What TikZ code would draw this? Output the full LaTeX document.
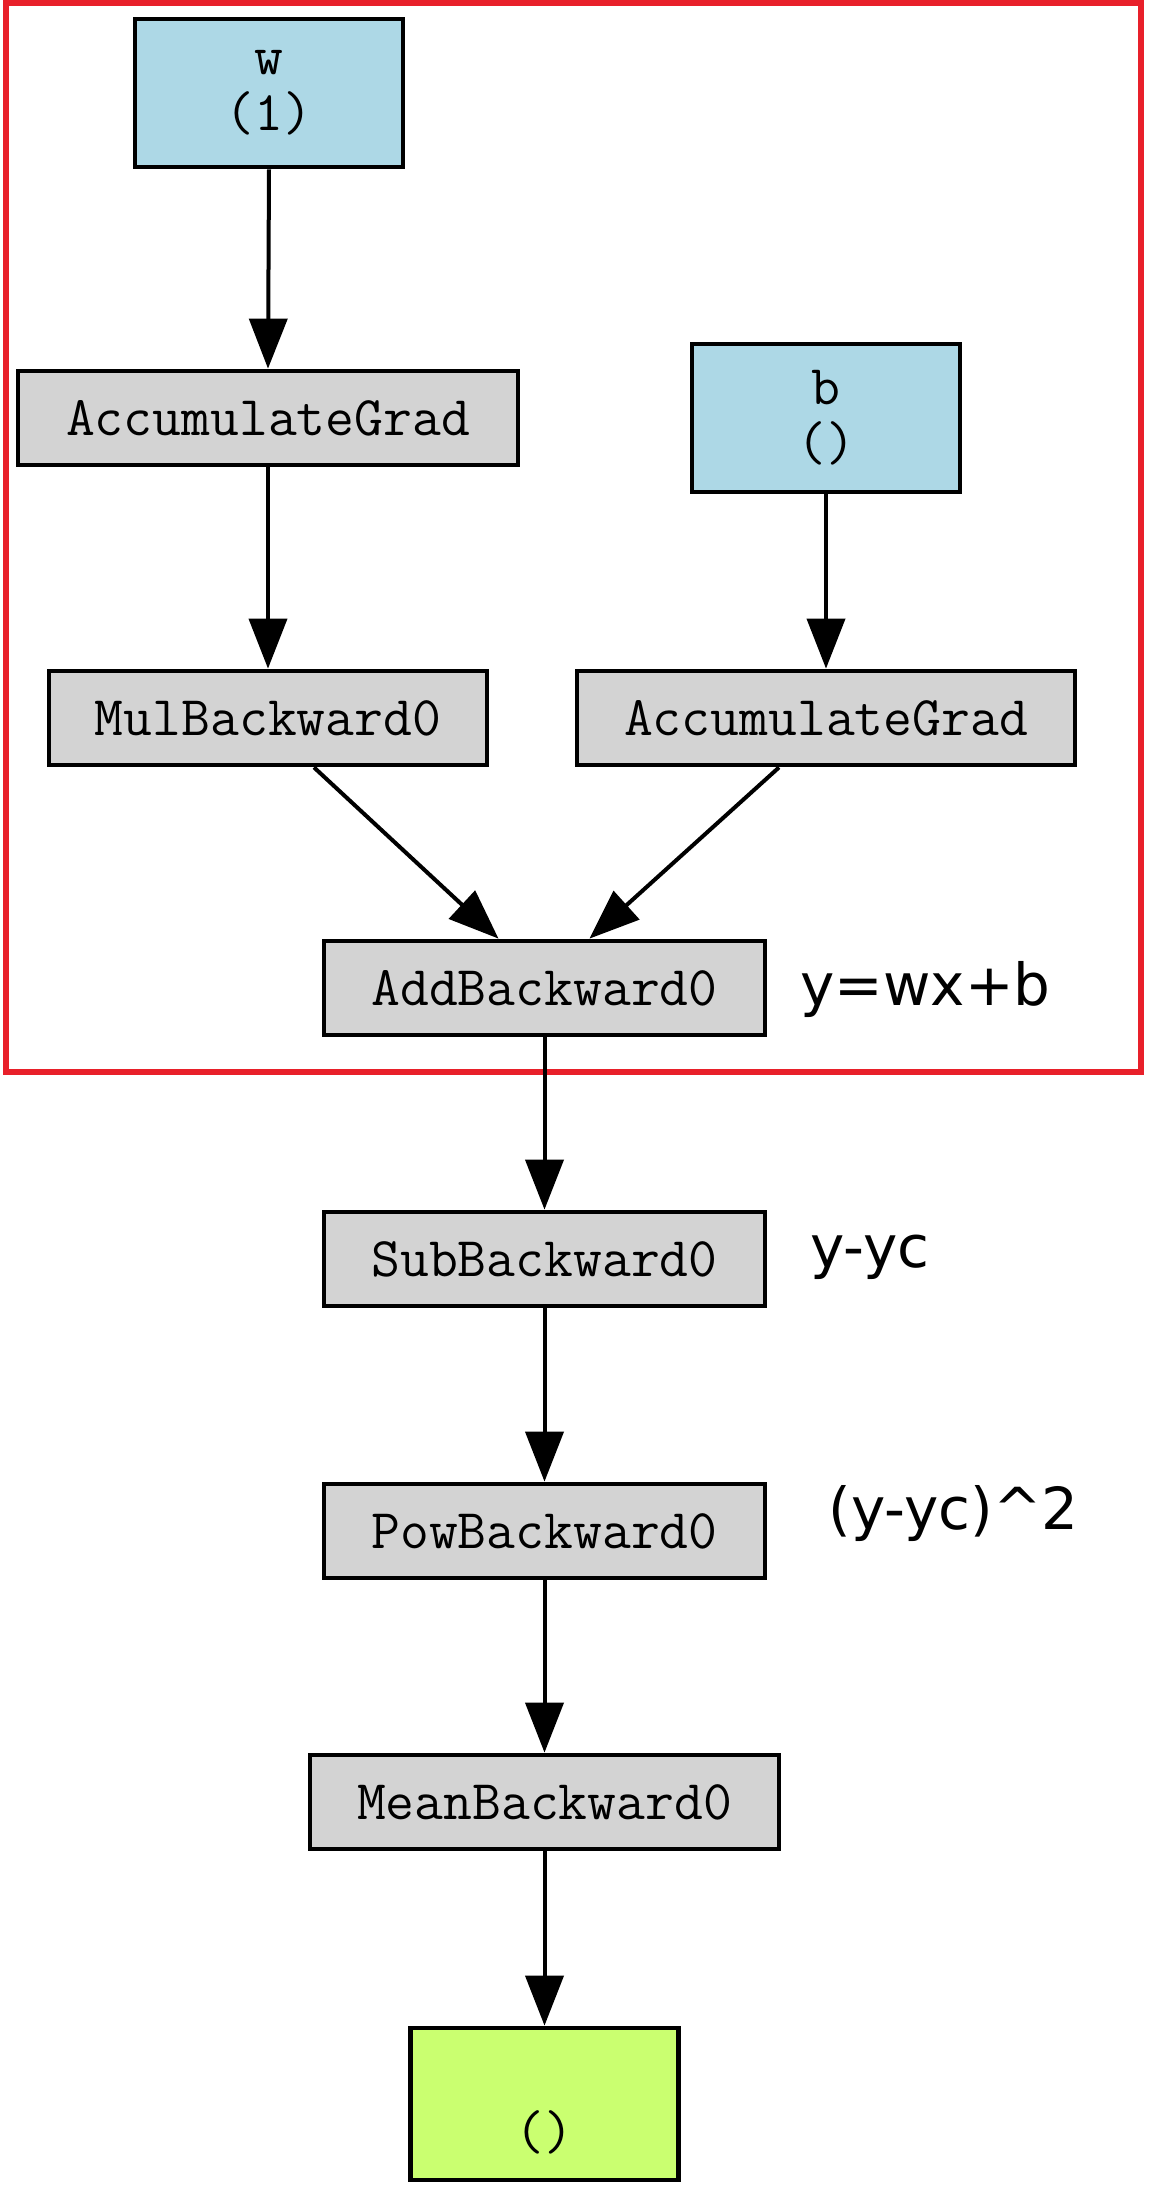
\documentclass[tikz,border=0pt]{standalone}
\usepackage{fontspec}
\newfontfamily\labelfont{DejaVu Sans}
\usetikzlibrary{arrows.meta}
\definecolor{varblue}{HTML}{ADD8E6}
\definecolor{opgray}{HTML}{D3D3D3}
\definecolor{outgreen}{HTML}{CAFF70}
\definecolor{framered}{HTML}{E8202A}
\tikzset{
  gnode/.style={draw=black, line width=2.4pt, inner sep=0pt, align=center,
    font=\ttfamily\fontsize{28}{28}\selectfont},
  opbox/.style={gnode, fill=opgray, minimum height=47pt},
  varbox/.style={gnode, fill=varblue, minimum width=134pt, minimum height=74pt},
  outbox/.style={gnode, fill=outgreen, minimum width=134pt, minimum height=76pt},
  conn/.style={line width=2pt, -{Triangle[length=25pt,width=19pt]}},
  annot/.style={anchor=base west, inner sep=0pt, font=\labelfont\fontsize{29}{32}\selectfont}
}
\begin{document}
\begin{tikzpicture}[x=0.5pt,y=-0.5pt]
\useasboundingbox (0,0) rectangle (1156,2200);
\draw[framered, line width=2.6pt] (6,3) rectangle (1141,1072);

\node[varbox] (w) at (269,93) {w\\(1)};
\node[opbox, minimum width=250pt] (accl) at (268,418) {AccumulateGrad};
\node[varbox] (b) at (826,418) {b\\()};
\node[opbox, minimum width=219pt] (mul) at (268,718) {MulBackward0};
\node[opbox, minimum width=249pt] (accr) at (826,718) {AccumulateGrad};
\node[opbox, minimum width=220.5pt] (add) at (544.5,988) {AddBackward0};
\node[opbox, minimum width=220.5pt] (sub) at (544.5,1259) {SubBackward0};
\node[opbox, minimum width=220.5pt] (pow) at (544.5,1531) {PowBackward0};
\node[opbox, minimum width=234.5pt] (mean) at (544.5,1802) {MeanBackward0};
\node[outbox] (out) at (544.5,2104) {\strut\\()};

\node[annot] (l1) at (800,1005) {y=wx+b};
\node[annot] (l2) at (810,1267) {y-yc};
\node[annot] (l3) at (828,1529) {(y-yc)\^{}2};

\draw[conn] (w.south) -- (accl.north);
\draw[conn] (accl.south) -- (mul.north);
\draw[conn] (b.south) -- (accr.north);
\draw[conn] ([xshift=23pt]mul.south) -- ([xshift=-23pt]add.north);
\draw[conn] ([xshift=-23.5pt]accr.south) -- ([xshift=22.5pt]add.north);
\draw[conn] (add.south) -- (sub.north);
\draw[conn] (sub.south) -- (pow.north);
\draw[conn] (pow.south) -- (mean.north);
\draw[conn] (mean.south) -- (out.north);
\end{tikzpicture}
\end{document}
